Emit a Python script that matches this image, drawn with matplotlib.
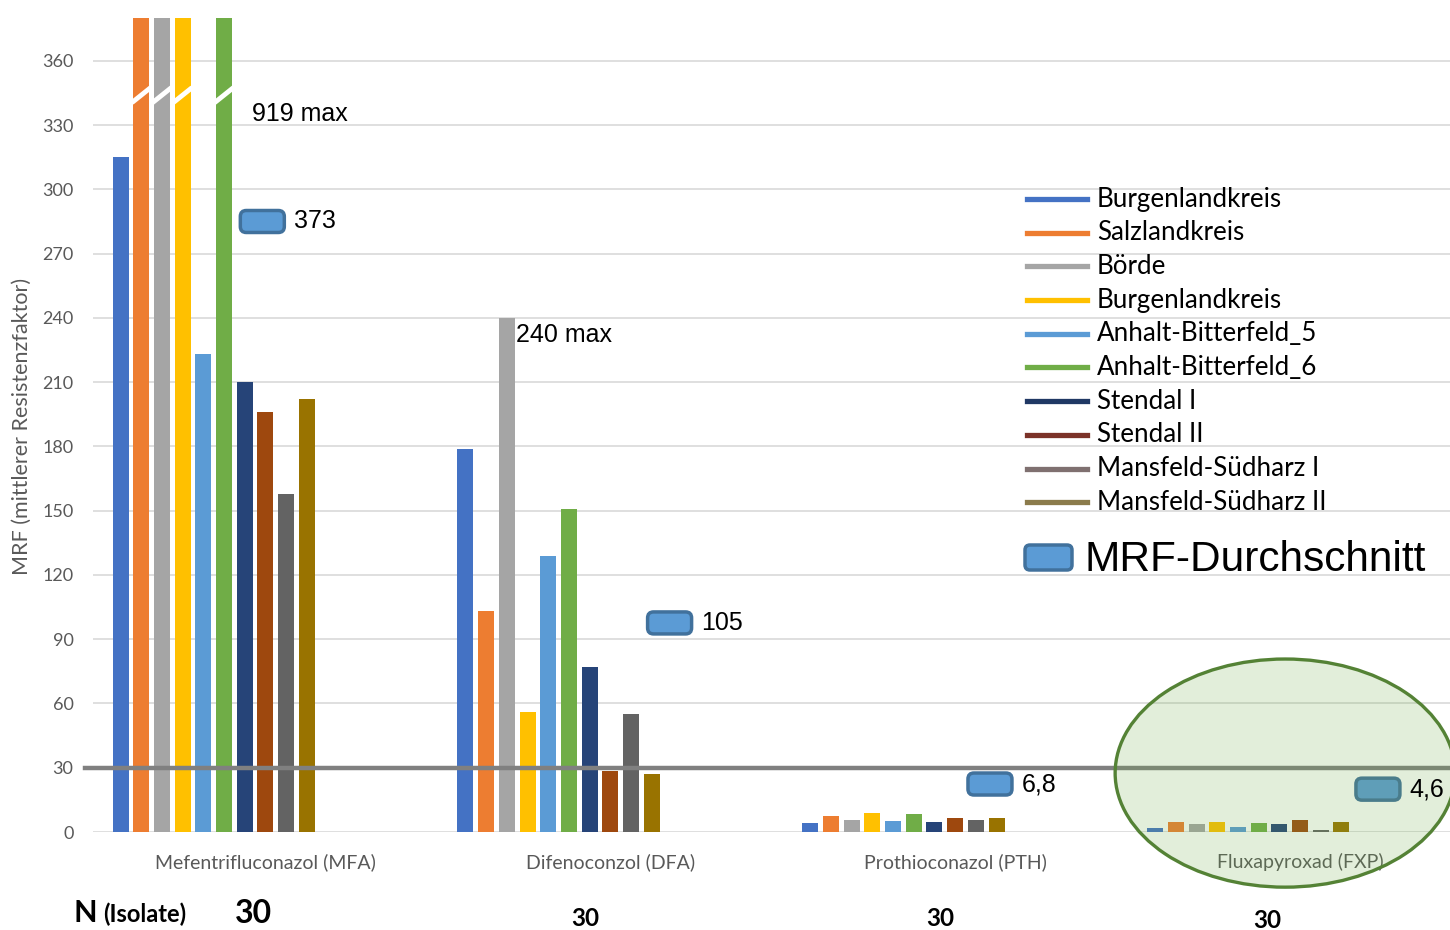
import numpy as np
import matplotlib.pyplot as plt
import matplotlib.transforms as mtransforms
from matplotlib.patches import FancyBboxPatch, Ellipse
from matplotlib.lines import Line2D

# ---- Daten ----
categories = ['Mefentrifluconazol (MFA)', 'Difenoconzol (DFA)',
              'Prothioconazol (PTH)', 'Fluxapyroxad (FXP)']
regions = ['Burgenlandkreis', 'Salzlandkreis', 'Börde', 'Burgenlandkreis',
           'Anhalt-Bitterfeld_5', 'Anhalt-Bitterfeld_6', 'Stendal I', 'Stendal II',
           'Mansfeld-Südharz I', 'Mansfeld-Südharz II']

# MRF je Region (Werte > 380 laufen oben aus dem Bild)
mfa = [315, 480, 520, 508, 223, 919, 210, 196, 158, 202]
dfa = [179, 103, 240, 56, 129, 151, 77, 28.5, 55, 27]
pth = [4.0, 7.6, 5.6, 8.7, 5.1, 8.4, 4.8, 6.5, 5.5, 6.7]
fxp = [1.9, 4.7, 3.7, 4.8, 2.3, 4.2, 3.9, 5.6, 1.1, 4.8]

mrf_mean = [373, 105, 6.8, 4.6]
max_values = [919, 240]
n_isolate = [30, 30, 30, 30]
threshold = 30

bar_colors = ['#4472c4', '#ed7d31', '#a5a5a5', '#ffc000', '#5b9bd5',
              '#70ad47', '#264478', '#9e480e', '#636363', '#997300']
legend_colors = ['#4472c4', '#ed7d31', '#a5a5a5', '#ffc000', '#5b9bd5',
                 '#70ad47', '#203864', '#7b3228', '#7f7070', '#8b7b4b']

calibri = ['Lato', 'DejaVu Sans']
arial = ['Liberation Sans', 'DejaVu Sans']

values = np.array([mfa, dfa, pth, fxp])   # (Kategorie, Region)
ytop = 380

fig = plt.figure(figsize=(14.5, 9.3), dpi=100)
ax = fig.add_axes([93 / 1450, 1 - 832 / 930, 1 - 93 / 1450, (832 - 18) / 930])

x = np.arange(len(categories))
width = 0.0464
for i, reg in enumerate(regions):
    pos = x - 0.42 + 0.06 * i
    ax.bar(pos, values[:, i], width=width, color=bar_colors[i], zorder=3)
    # Achsenbruch-Markierung für abgeschnittene Balken
    for xp, v in zip(pos, values[:, i]):
        if v > ytop:
            ax.plot([xp - width / 2 - 0.004, xp + width / 2 + 0.004], [340.5, 347.5],
                    color='white', lw=3.5, solid_capstyle='butt', zorder=4)

ax.set_xlim(-0.5, 3.435)
ax.set_ylim(0, ytop)
ax.set_yticks(np.arange(0, 361, 30))
ax.grid(axis='y', color='#d9d9d9', lw=1.2, zorder=0)
ax.set_axisbelow(True)
for s in ax.spines.values():
    s.set_visible(False)
ax.tick_params(axis='y', length=0, pad=14, labelsize=13, labelcolor='#595959')
ax.set_xticks(x)
ax.set_xticklabels(categories, fontsize=14, color='#595959', family=calibri)
ax.tick_params(axis='x', length=0, pad=15)
for lab in ax.get_yticklabels():
    lab.set_family(calibri)

# Grenzlinie MRF = 30
ax.plot([-0.523, 3.435], [threshold, threshold], color='#808080', lw=3.2,
        clip_on=False, zorder=5)

# "max"-Beschriftungen
ax.text(-0.038, 335, f'{max_values[0]} max', fontsize=18, family=arial,
        va='center', ha='left', zorder=6)
ax.text(0.728, 232, f'{max_values[1]} max', fontsize=18, family=arial,
        va='center', ha='left', zorder=6)

# MRF-Durchschnitt Marker
def mean_box(xd, yd, text):
    tr = fig.dpi_scale_trans + mtransforms.ScaledTranslation(xd, yd, ax.transData)
    box = FancyBboxPatch((-0.2, -0.09), 0.40, 0.18,
                         boxstyle='round,pad=0.02,rounding_size=0.06',
                         fc='#5b9bd5', ec='#41719c', lw=2.5,
                         transform=tr, clip_on=False, zorder=6)
    ax.add_patch(box)
    ax.annotate(text, (xd, yd), xytext=(23, 0), textcoords='offset points',
                fontsize=18, family=arial, va='center', ha='left', zorder=12)

box_pos = [(-0.009, 285), (1.172, 97.6), (2.101, 22.4), (3.226, 20)]
for (bx, by), m in zip(box_pos, mrf_mean):
    mean_box(bx, by, f'{m:g}'.replace('.', ','))

# grüne Hervorhebung FXP
ell = Ellipse((2.957, 27.5), 0.986, 106.5, fc=(0.439, 0.678, 0.278, 0.2),
              ec='#548235', lw=2.4, clip_on=False, zorder=10)
ax.add_patch(ell)

# Achsentitel
fig.text(22 / 1450, 1 - 426 / 930, 'MRF (mittlerer Resistenzfaktor)', rotation=90,
         fontsize=15.5, color='#595959', family=calibri, ha='center', va='center')

# N (Isolate)
fig.text(73 / 1450, 1 - 922 / 930, 'N', fontsize=22, fontweight='bold',
         family=calibri, ha='left', va='baseline')
fig.text(103 / 1450, 1 - 922 / 930, '(Isolate)', fontsize=17, fontweight='bold',
         family=calibri, ha='left', va='baseline')
n_trans = mtransforms.blended_transform_factory(ax.transData, fig.transFigure)
n_x = [-0.035, 0.928, 1.957, 2.904]
n_y = [1 - 913 / 930, 1 - 918 / 930, 1 - 918 / 930, 1 - 920 / 930]
n_fs = [23, 17.5, 17.5, 17.5]
for nx, ny, fs, n in zip(n_x, n_y, n_fs, n_isolate):
    ax.text(nx, ny, str(n), transform=n_trans, fontsize=fs, fontweight='bold',
            family=calibri, ha='center', va='center', clip_on=False)

# Legende (manuell, wie im Original)
for i, (reg, c) in enumerate(zip(regions, legend_colors)):
    yy = 1 - (199 + 33.7 * i) / 930
    fig.add_artist(Line2D([1027 / 1450, 1087 / 1450], [yy, yy], color=c, lw=3.8,
                          transform=fig.transFigure))
    fig.text(1097 / 1450, yy, reg, fontsize=18.7, family=calibri, va='center', ha='left')

leg_box = FancyBboxPatch((1027, 930 - 568), 43, 21,
                         boxstyle='round,pad=2,rounding_size=5',
                         fc='#5b9bd5', ec='#41719c', lw=2.5,
                         transform=mtransforms.IdentityTransform())
fig.add_artist(leg_box)
fig.text(1085 / 1450, 1 - 560 / 930, 'MRF-Durchschnitt', fontsize=30.5, family=arial,
         va='center', ha='left')

fig.savefig('out.png', dpi=100)
